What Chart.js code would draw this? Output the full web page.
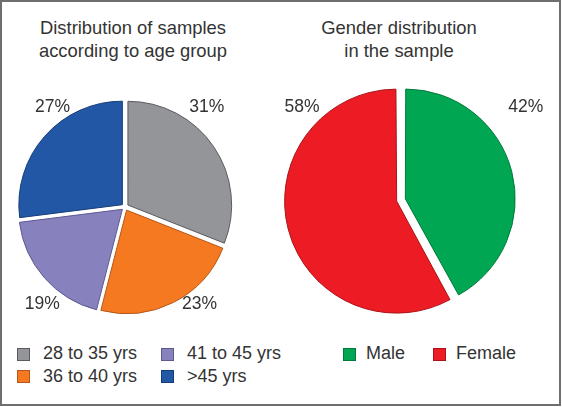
<!DOCTYPE html>
<html>
<head>
<meta charset="utf-8">
<script src="https://cdn.jsdelivr.net/npm/chart.js@4"></script>
<style>
  body { margin: 0; background: #fff; font-family: "Liberation Sans", Arial, sans-serif; color: #333; }
  #frame { position: relative; width: 562px; height: 407px; overflow: hidden; }
  #border { position: absolute; left: 0; top: 0; width: 561px; height: 406px; box-sizing: border-box; border: 2px solid #6e6e6e; }
  canvas { position: absolute; }
  .title { position: absolute; top: 16px; font-size: 18.4px; line-height: 23px; text-align: center; white-space: nowrap; }
  .legend { position: absolute; display: grid; font-size: 18px; line-height: 22px; }
  .item { display: flex; align-items: center; white-space: nowrap; }
  .swatch { width: 13px; height: 13px; box-sizing: border-box; border: 1px solid; position: relative; top: 1px; }
</style>
</head>
<body>
<div id="frame">
  <div id="border"></div>
  <div class="title" style="left:0; width:266px;">Distribution of samples<br>according to age group</div>
  <div class="title" style="left:300px; width:198px;">Gender distribution<br>in the sample</div>
  <canvas id="ageChart" width="250" height="250" style="left:0; top:80px;"></canvas>
  <canvas id="genderChart" width="290" height="250" style="left:270px; top:75px;"></canvas>
  <div class="legend" id="ageLegend" style="left:17px; top:342px; grid-template-columns: 144px auto; grid-auto-flow: column; grid-template-rows: 22.5px 22.5px;"></div>
  <div class="legend" id="genderLegend" style="left:343px; top:342px; grid-template-columns: 90px auto;"></div>
</div>
<script>
const ageLabels = ["28 to 35 yrs", "36 to 40 yrs", "41 to 45 yrs", ">45 yrs"];
const agePercent = [31, 23, 19, 27];
const ageColors = ["#939598", "#f47920", "#8781bd", "#2257a6"];
const ageBorders = ["#5a5b5e", "#b5561a", "#5d5890", "#173d78"];

const genderLabels = ["Male", "Female"];
const genderPercent = [42, 58];
const genderColors = ["#00a651", "#ed1c24"];
const genderBorders = ["#007a3b", "#a81419"];

// percentage text placed around each pie, relative to its radius
const pctLabels = {
  id: "pctLabels",
  afterDatasetsDraw(chart, args, opts) {
    const ctx = chart.ctx;
    const meta = chart.getDatasetMeta(0);
    const values = chart.data.datasets[0].data;
    ctx.save();
    ctx.font = '17.5px "Liberation Sans", Arial, sans-serif';
    ctx.fillStyle = "#333";
    ctx.textAlign = "center";
    ctx.textBaseline = "alphabetic";
    meta.data.forEach((arc, i) => {
      const a = opts.anchors[i];
      ctx.fillText(values[i] + "%", arc.x + a[0] * arc.outerRadius, arc.y + a[1] * arc.outerRadius);
    });
    ctx.restore();
  }
};

function makePie(id, labels, values, colors, borders, offset, padding, anchors) {
  return new Chart(document.getElementById(id).getContext("2d"), {
    type: "pie",
    data: {
      labels: labels,
      datasets: [{
        data: values,
        backgroundColor: colors,
        borderColor: borders,
        borderWidth: 1,
        offset: offset,
        hoverOffset: 0
      }]
    },
    options: {
      responsive: false,
      animation: false,
      events: [],
      layout: { padding: padding },
      plugins: {
        legend: { display: false },
        tooltip: { enabled: false },
        pctLabels: { anchors: anchors }
      }
    },
    plugins: [pctLabels]
  });
}

makePie("ageChart", ageLabels, agePercent, ageColors, ageBorders, 14,
  { left: 14, right: 14, top: 16, bottom: 12 },
  [[0.79, -0.92], [0.72, 0.99], [-0.8, 0.99], [-0.7, -0.92]]);

makePie("genderChart", genderLabels, genderPercent, genderColors, genderBorders, 18,
  { left: 14, right: 42, top: 8, bottom: 8 },
  [[1.16, -0.82], [-0.92, -0.82]]);

function buildLegend(elId, labels, colors, borders, gap) {
  const el = document.getElementById(elId);
  labels.forEach((lab, i) => {
    const item = document.createElement("div");
    item.className = "item";
    const sw = document.createElement("span");
    sw.className = "swatch";
    sw.style.background = colors[i];
    sw.style.borderColor = borders[i];
    sw.style.marginRight = gap + "px";
    const txt = document.createElement("span");
    txt.textContent = lab;
    item.appendChild(sw);
    item.appendChild(txt);
    el.appendChild(item);
  });
}

buildLegend("ageLegend", ageLabels, ageColors, ageBorders, 13);
buildLegend("genderLegend", genderLabels, genderColors, genderBorders, 10);
</script>
</body>
</html>
